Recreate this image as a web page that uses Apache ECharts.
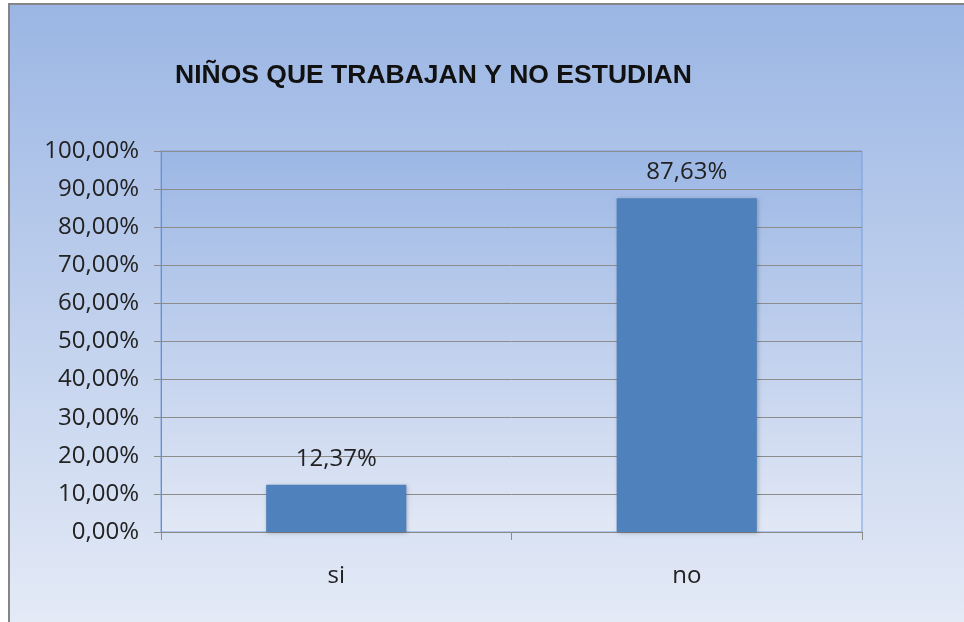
<!DOCTYPE html>
<html>
<head>
<meta charset="utf-8">
<title>Niños que trabajan y no estudian</title>
<script src="https://cdn.jsdelivr.net/npm/echarts@6/dist/echarts.min.js"></script>
<style>
  html, body { margin: 0; padding: 0; background: #ffffff; }
  #chart {
    position: absolute;
    left: 8px;
    top: 3px;
    width: 956px;
    height: 619px;
    border-left: 2px solid #858585;
    border-top: 2px solid #858585;
    box-sizing: border-box;
  }
</style>
</head>
<body>
<div id="chart"></div>
<script>
const titleText = 'NIÑOS QUE TRABAJAN Y NO ESTUDIAN'
const categories = ['si', 'no']
const values = [12.37, 87.63]

const fmt = (v) => v.toFixed(2).replace('.', ',') + '%'
const fontFamily = '"Open Sans", "Noto Sans", sans-serif'

const chart = echarts.init(document.getElementById('chart'))

chart.setOption({
  backgroundColor: new echarts.graphic.LinearGradient(0, 0, 0, 1, [
    { offset: 0, color: '#9bb6e4' },
    { offset: 1, color: '#e4eaf6' }
  ]),
  animation: false,
  title: {
    text: titleText,
    left: 160,
    top: 52,
    textStyle: {
      fontFamily: '"Liberation Sans", Arial, sans-serif',
      fontWeight: 'bold',
      fontSize: 26.5,
      color: '#111111'
    }
  },
  grid: {
    left: 151,
    top: 146,
    right: 102,
    bottom: 90,
    show: true,
    borderColor: '#78a0dc',
    borderWidth: 1,
    backgroundColor: new echarts.graphic.LinearGradient(0, 0, 0, 1, [
      { offset: 0, color: '#9cb7e5' },
      { offset: 1, color: '#e2e8f5' }
    ])
  },
  xAxis: {
    type: 'category',
    data: categories,
    axisLine: { lineStyle: { color: '#8a8a8a', width: 1 } },
    axisTick: { show: true, length: 8, lineStyle: { color: '#8a8a8a' } },
    axisLabel: {
      margin: 32,
      fontFamily: fontFamily,
      fontSize: 24,
      color: '#222222'
    }
  },
  yAxis: {
    type: 'value',
    min: 0,
    max: 100,
    interval: 10,
    axisLine: { show: true, lineStyle: { color: '#8a8a8a', width: 1 } },
    axisTick: { show: true, length: 7, lineStyle: { color: '#8a8a8a' } },
    splitLine: { lineStyle: { color: '#8c8c8c', width: 1 } },
    axisLabel: {
      margin: 22,
      formatter: fmt,
      fontFamily: fontFamily,
      fontSize: 24,
      color: '#222222'
    }
  },
  series: [
    {
      type: 'bar',
      data: values,
      barWidth: '40%',
      itemStyle: {
        color: '#4f81bd',
        shadowColor: 'rgba(0, 0, 0, 0.25)',
        shadowBlur: 4,
        shadowOffsetX: 1,
        shadowOffsetY: 1
      },
      label: {
        show: true,
        position: 'top',
        distance: 14,
        formatter: (p) => fmt(p.value),
        fontFamily: fontFamily,
        fontSize: 24,
        color: '#222222'
      }
    }
  ]
})
</script>
</body>
</html>
